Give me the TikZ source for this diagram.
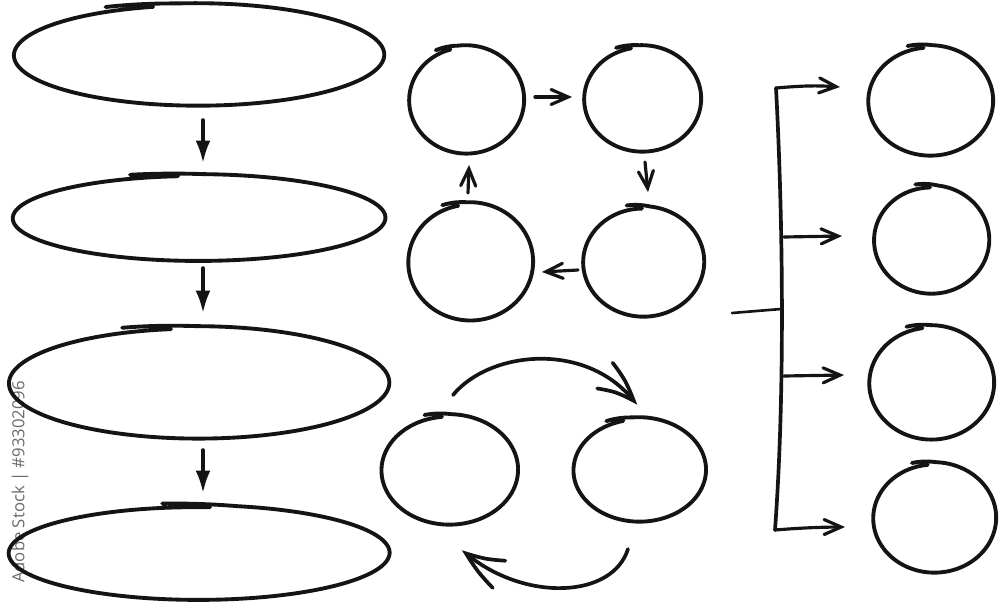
\documentclass[tikz,border=0pt]{standalone}
\usepackage{fontspec}
\newfontfamily\wmfont{Open Sans}
\usetikzlibrary{shapes.geometric,arrows.meta,calc,bending}
\tikzset{
  ghost/.style={ellipse, draw=none, inner sep=0pt, outer sep=0pt},
  pen/.style={line width=2.2pt, line cap=round, line join=round, draw=black!92},
  downarr/.style={draw=black!92, line width=2pt, line cap=round, -{Latex[length=0.45cm,width=0.3cm]}},
  barb/.style={draw=black!92, line width=1.8pt, line cap=round, -{Straight Barb[length=0.34cm,width=0.3cm,line cap=round]}},
  bigbarb/.style={draw=black!92, line width=2.1pt, line cap=round, -{Straight Barb[length=0.8cm,width=0.6cm,line cap=round,bend]}},
  bracket/.style={draw=black!92, line width=2.1pt, line cap=round, line join=round},
  wmark/.style={rotate=90, text=black!58, font=\wmfont\fontsize{9.5}{11}\selectfont, inner sep=0pt}
}
% hand-drawn loop: name, cx, cy, rx, ry, start angle
\newcommand{\handloop}[6]{%
  \node[ghost, minimum width={#4*0.04cm}, minimum height={#5*0.04cm}] (#1) at (#2,#3) {};
  \draw[pen] plot[domain={#6}:{#6+374}, samples=220]
    ({#2+#4*(1+0.025*max(0,1-(\x-(#6))/22)-0.00012*(\x-(#6)))*cos(\x)},
     {#3+#5*(1+0.045*max(0,1-(\x-(#6))/22)-0.00012*(\x-(#6)))*sin(\x)});
}
\begin{document}
\begin{tikzpicture}[x=0.02cm, y=-0.02cm]
\useasboundingbox (0,0) rectangle (1000,605);
\fill[white] (0,0) rectangle (1000,605);

% watermark stamp
\node[wmark] (wm) at (20,482) {Adobe Stock | \#93302096};

% left column of ellipses
\handloop{E1}{197}{55}{190}{52}{-118}
\handloop{E2}{197}{218}{191}{44}{-110}
\handloop{E3}{197}{383}{195}{57}{-112}
\handloop{E4}{197}{553}{195}{48}{-100}

\draw[downarr] ($(E1.south)+(6,13)$) -- ($(E2.north)+(6,-11)$);
\draw[downarr] ($(E2.south)+(6,6)$) -- ($(E3.north)+(6,-13)$);
\draw[downarr] ($(E3.south)+(6,10)$) -- ($(E4.north)+(6,-12)$);

% cycle of four circles
\handloop{C1}{466}{100}{59}{55}{-120}
\handloop{C2}{642}{99}{60}{54}{-115}
\handloop{C3}{470}{262}{64}{60}{-115}
\handloop{C4}{643}{262}{62}{56}{-105}

\draw[barb] ($(C1.east)+(10,-3)$) -- ($(C2.west)+(-10,-2)$);
\draw[barb] ($(C2.south)+(3,9)$) -- ($(C4.north)+(5,-14)$);
\draw[barb] ($(C4.west)+(-3,8)$) -- ($(C3.east)+(8,10)$);
\draw[barb] ($(C3.north)+(-2,-9)$) -- ($(C1.south)+(3,10)$);

% pair of circles with curved arrows
\handloop{C5}{449}{470}{70}{56}{-110}
\handloop{C6}{639}{470}{68}{53}{-118}

\draw[bigbarb] ($(C5.north)+(4,-19)$) .. controls (490,350) and (590,340) .. ($(C6.north)+(-2,-12)$);
\draw[bigbarb] ($(C6.south)+(-11,26)$) .. controls (612,600) and (520,602) .. ($(C5.south)+(13,24)$);

% bracket with four circles
\handloop{R1}{930}{101}{64}{56}{-110}
\handloop{R2}{931}{240}{59}{55}{-105}
\handloop{R3}{931}{383}{64}{58}{-112}
\handloop{R4}{934}{518}{63}{56}{-110}

\coordinate (btop) at (776,88);
\coordinate (bbot) at (775,530);
\coordinate (j2) at (784,237);
\coordinate (j3) at (784,376);
\coordinate (js) at (781,309);
\coordinate (stub) at (732,313);

\draw[bracket] (btop) .. controls (782,200) and (786,380) .. (bbot);
\draw[bracket, line width=1.5pt] (stub) -- (js);
\draw[barb] (btop) .. controls (800,86) and (815,85) .. ($(btop -| R1.west)+(-26,-1)$);
\draw[barb] (j2) -- ($(j2 -| R2.west)+(-30,-1)$);
\draw[barb] (j3) -- ($(j3 -| R3.west)+(-23,-1)$);
\draw[barb] (bbot) .. controls (800,528) and (820,527) .. ($(bbot -| R4.west)+(-26,-3)$);
\end{tikzpicture}
\end{document}
